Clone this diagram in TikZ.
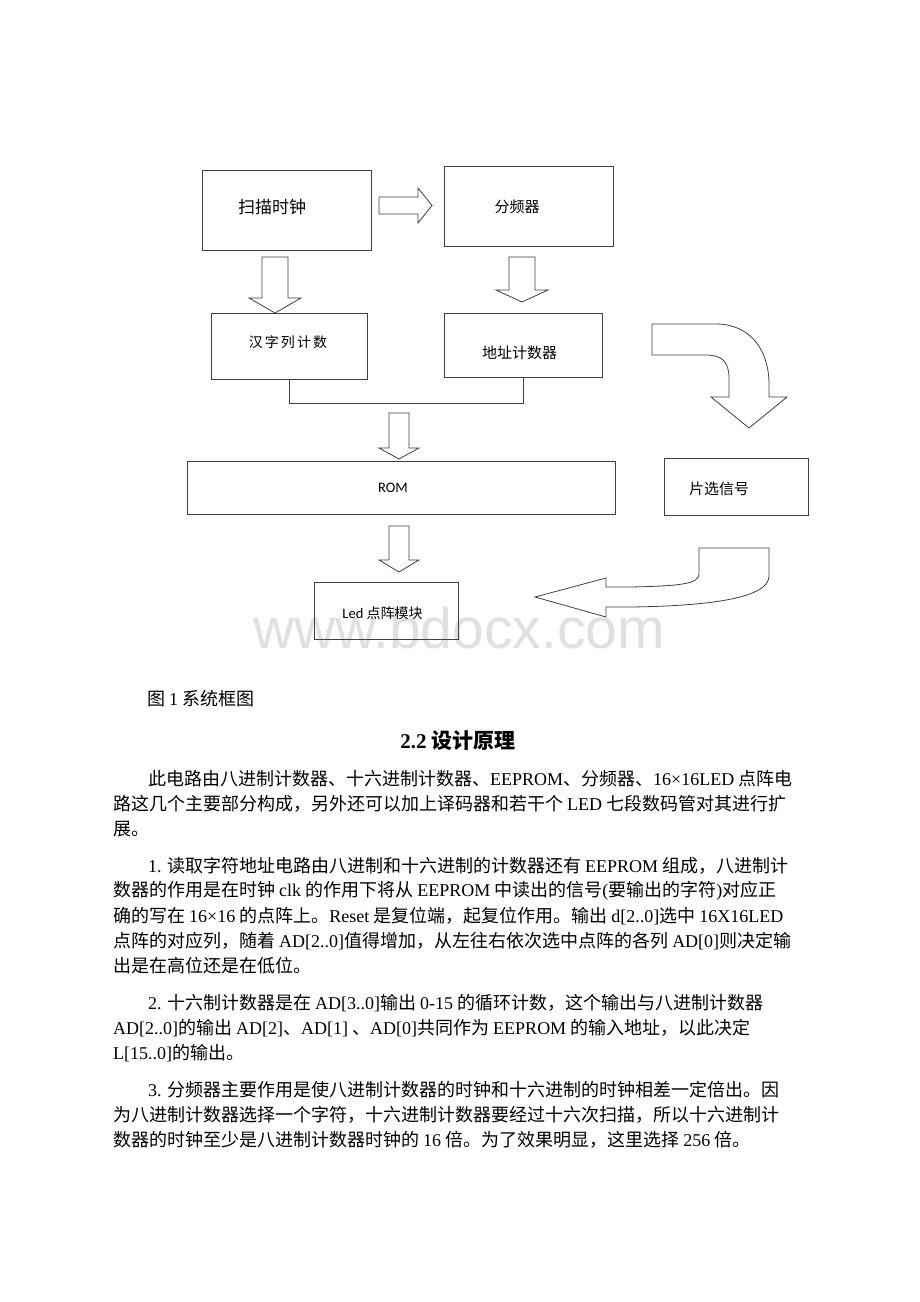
\documentclass[tikz,border=0pt]{standalone}
\usepackage{fontspec}
\setmainfont{Noto Sans CJK SC}
\newfontfamily\enfont{Liberation Serif}
\newfontfamily\calfont{Carlito}
\newfontfamily\wmfont{Liberation Sans}
\newfontfamily\widefont{Noto Sans CJK SC}[LetterSpace=15]
\newcommand{\dnarrow}[6]{%
  \draw[blk] (#1-#4,#2) -- (#1+#4,#2) -- (#1+#4,#3-#6) -- (#1+#5,#3-#6) -- (#1,#3)
    -- (#1-#5,#3-#6) -- (#1-#4,#3-#6) -- cycle;}
\tikzset{
  box/.style={draw=black!75, line width=0.8pt, inner sep=0pt},
  blk/.style={draw=black!75, line width=0.8pt, fill=white},
  lbl/.style={inner sep=0pt, font=\fontsize{15}{15}\selectfont},
  body/.style={anchor=west, inner sep=0pt, font=\fontsize{18}{18}\selectfont},
}
\begin{document}
\begin{tikzpicture}[x=1pt,y=-1pt]
\useasboundingbox[fill=white] (0,0) rectangle (920,1302);
\node[inner sep=0pt, text=black!12, font=\wmfont\fontsize{57}{57}\selectfont] (wm) at (459,628) {www.bdocx.com};
\node[box, minimum width=169, minimum height=80] (clk) at (286.5,210) {};
\node[box, minimum width=169, minimum height=80] (div) at (528.5,206) {};
\node[box, minimum width=156, minimum height=66] (hz) at (289,346) {};
\node[box, minimum width=158, minimum height=64] (addr) at (523,345) {};
\node[box, minimum width=428, minimum height=53] (rom) at (401,487.5) {};
\node[box, minimum width=144, minimum height=57] (led) at (386,610.5) {};
\node[box, minimum width=144, minimum height=57] (cs) at (736,486.5) {};
\node[lbl, font=\fontsize{17}{17}\selectfont] (clkt) at (272,207) {扫描时钟};
\node[lbl] (divt) at (517,207) {分频器};
\node[lbl, font=\widefont\fontsize{14}{14}\selectfont] (hzt) at (288,342) {汉字列计数};
\node[lbl] (addrt) at (519.5,353) {地址计数器};
\node[lbl, font=\calfont\fontsize{14.5}{14.5}\selectfont] (romt) at (393,488) {ROM};
\node[lbl, font=\fontsize{14}{14}\selectfont] (ledt) at (382.5,613) {{\calfont\fontsize{14.5}{14.5}\selectfont Led} 点阵模块};
\node[lbl] (cst) at (719,489) {片选信号};
\draw[blk] (379,197) -- (418,197) -- (418,188) -- (432,205.5) -- (418,223) -- (418,214) -- (379,214) -- cycle;
\dnarrow{275}{257}{313}{13}{26}{15}
\dnarrow{522}{257}{302}{13}{26}{12}
\draw[black!75, line width=0.8pt] (hz.south) -- ++(0,24) -| (addr.south);
\dnarrow{399}{413}{459}{10}{20}{11}
\dnarrow{399}{526}{572}{10}{20}{12}
\draw[blk] (652,324) -- (716,324) .. controls (750,324) and (769,350) .. (769,384) -- (769,397)
  -- (787,397) -- (749,428) -- (711,397) -- (729,397) -- (729,378)
  .. controls (729,362) and (722,355) .. (706,355) -- (652,355) -- cycle;
\draw[blk] (699,548) -- (769,548) -- (769,576) .. controls (769,598) and (710,606) .. (630,607)
  -- (606,607) -- (606,617) -- (535,597) -- (606,578) -- (606,587) -- (630,587)
  .. controls (680,586) and (699,584) .. (699,574) -- cycle;
\node[body] (cap) at (147,699) {图 {\enfont 1} 系统框图};
\node[inner sep=0pt, font=\bfseries\fontsize{21}{21}\selectfont] (head) at (458,741) {{\enfont 2.2} 设计原理};
\node[body] (p1a) at (148,779) {此电路由八进制计数器、十六进制计数器、{\enfont EEPROM}、分频器、{\enfont 16×16LED} 点阵电};
\node[body] (p1b) at (113,804) {路这几个主要部分构成，另外还可以加上译码器和若干个 {\enfont LED} 七段数码管对其进行扩};
\node[body] (p1c) at (113,829) {展。};
\node[body] (p2a) at (148,866) {{\enfont 1.} 读取字符地址电路由八进制和十六进制的计数器还有 {\enfont EEPROM} 组成，八进制计};
\node[body] (p2b) at (113,891) {数器的作用是在时钟 {\enfont clk} 的作用下将从 {\enfont EEPROM} 中读出的信号{\enfont (}要输出的字符{\enfont )}对应正};
\node[body] (p2c) at (113,916) {确的写在 {\enfont 16×16} 的点阵上。{\enfont Reset} 是复位端，起复位作用。输出 {\enfont d[2..0]}选中 {\enfont 16X16LED}};
\node[body] (p2d) at (113,941) {点阵的对应列，随着 {\enfont AD[2..0]}值得增加，从左往右依次选中点阵的各列 {\enfont AD[0]}则决定输};
\node[body] (p2e) at (113,966) {出是在高位还是在低位。};
\node[body] (p3a) at (148,1003) {{\enfont 2.} 十六制计数器是在 {\enfont AD[3..0]}输出 {\enfont 0-15} 的循环计数，这个输出与八进制计数器};
\node[body] (p3b) at (113,1028) {{\enfont AD[2..0]}的输出 {\enfont AD[2]}、{\enfont AD[1]} 、{\enfont AD[0]}共同作为 {\enfont EEPROM} 的输入地址，以此决定};
\node[body] (p3c) at (113,1053) {{\enfont L[15..0]}的输出。};
\node[body] (p4a) at (148,1090) {{\enfont 3.} 分频器主要作用是使八进制计数器的时钟和十六进制的时钟相差一定倍出。因};
\node[body] (p4b) at (113,1115) {为八进制计数器选择一个字符，十六进制计数器要经过十六次扫描，所以十六进制计};
\node[body] (p4c) at (113,1140) {数器的时钟至少是八进制计数器时钟的 {\enfont 16} 倍。为了效果明显，这里选择 {\enfont 256} 倍。};
\end{tikzpicture}
\end{document}
